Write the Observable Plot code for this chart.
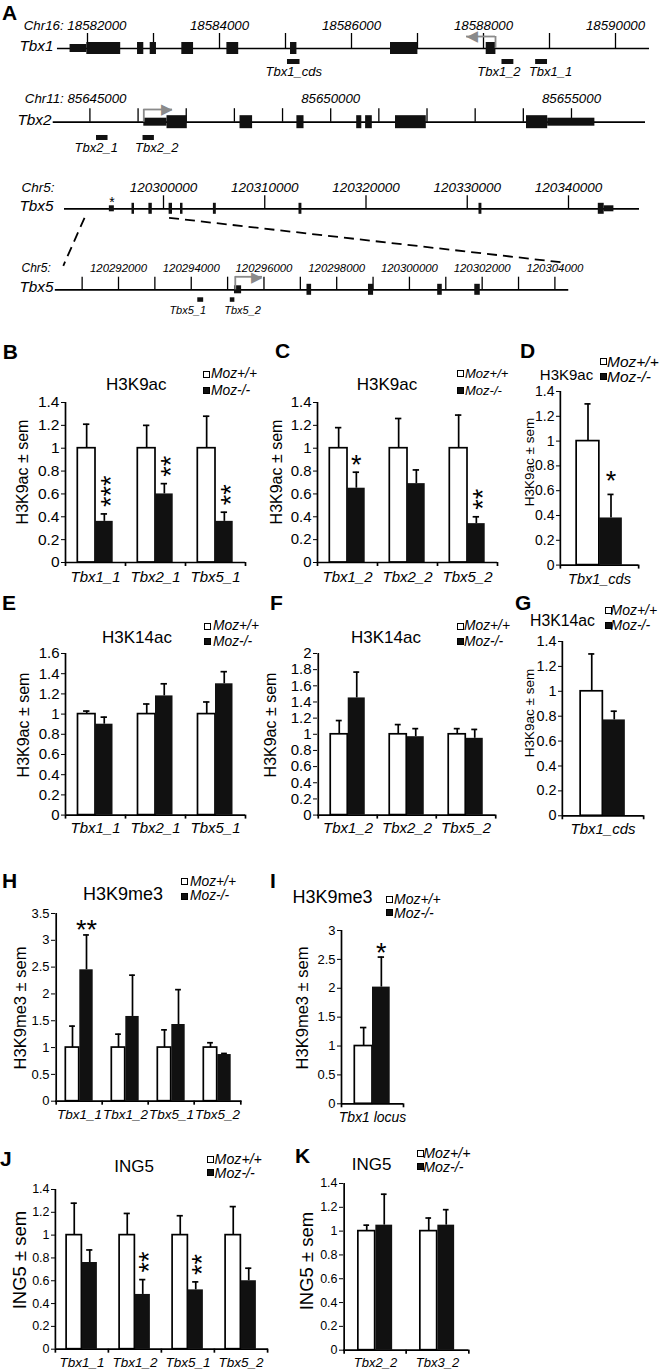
<!DOCTYPE html>
<html><head><meta charset="utf-8">
<script src="https://cdn.jsdelivr.net/npm/d3@7"></script>
<script src="https://cdn.jsdelivr.net/npm/@observablehq/plot@0.6"></script>
<style>
body{margin:0;background:#fff;}
#fig{position:relative;width:661px;height:1371px;overflow:hidden;background:#fff;font-family:"Liberation Sans",Arial,Helvetica,sans-serif;color:#000;}
#fig svg{position:absolute;overflow:visible;}
.t{position:absolute;white-space:nowrap;}
.lbox{position:absolute;width:5px;height:5px;border:1.2px solid #000;}
[aria-label="x-axis tick label"] text,[aria-label="x-axis"] text{font-style:italic;}
</style></head><body><div id="fig"></div>
<script>
// ================= DATA: panel A (genomic coordinates) =================
const tbx1Line = [18581545, 18590515];
const tbx1Ticks = [18582000,18583000,18584000,18585000,18586000,18587000,18588000,18589000,18590000];
const tbx1TickLabels = [18582000,18584000,18586000,18588000,18590000];
const tbx1Exons = [
  {start:18581736,end:18581990,kind:"utr"},{start:18581990,end:18582503,kind:"cds"},
  {start:18582758,end:18582853,kind:"cds"},{start:18582950,end:18583045,kind:"cds"},
  {start:18583429,end:18583607,kind:"cds"},{start:18584112,end:18584291,kind:"cds"},
  {start:18585076,end:18585173,kind:"cds"},{start:18586591,end:18587006,kind:"cds"},
  {start:18588041,end:18588188,kind:"cds"}];
const tbx1Probes = [{name:"Tbx1_cds",start:18585030,end:18585220},{name:"Tbx1_2",start:18588280,end:18588460},{name:"Tbx1_1",start:18588790,end:18588970}];
const tbx1Tss = [{tss:18588182,tip:18587742}];

const tbx2Line = [85644238, 85656537];
const tbx2Ticks = [85645000,85646000,85647000,85648000,85649000,85650000,85651000,85652000,85653000,85654000,85655000];
const tbx2TickLabels = [85645000,85650000,85655000];
const tbx2Exons = [
  {start:85646119,end:85646601,kind:"utr"},{start:85646601,end:85647022,kind:"cds"},
  {start:85648117,end:85648378,kind:"cds"},{start:85649298,end:85649446,kind:"cds"},
  {start:85650540,end:85650646,kind:"cds"},{start:85650725,end:85650864,kind:"cds"},
  {start:85651346,end:85651985,kind:"cds"},{start:85654066,end:85654506,kind:"cds"},
  {start:85654506,end:85655486,kind:"utr"}];
const tbx2Probes = [{name:"Tbx2_1",start:85645137,end:85645376},{name:"Tbx2_2",start:85646103,end:85646339}];
const tbx2Tss = [{tss:85646119,tip:85646715}];

const tbx5Line = [120290222, 120347012];
const tbx5Ticks = [120300000,120310000,120320000,120330000,120340000];
const tbx5TickLabels = [120300000,120310000,120320000,120330000,120340000];
const tbx5Exons = [
  {start:120294652,end:120295146,kind:"utr",mark:"*"},{start:120296889,end:120297136,kind:"cds"},
  {start:120298558,end:120298894,kind:"cds"},{start:120300553,end:120300889,kind:"cds"},
  {start:120301679,end:120301926,kind:"cds"},{start:120304928,end:120305215,kind:"cds"},
  {start:120313383,end:120313669,kind:"cds"},{start:120331160,end:120331447,kind:"cds"},
  {start:120342943,end:120343526,kind:"cds"},{start:120343526,end:120344484,kind:"utr"}];
const tbx5ZoomWindow = [120292200, 120300550];

const tbx5zLine = [120290262, 120304381];
const tbx5zTicks = [120291000,120292000,120293000,120294000,120295000,120296000,120297000,120298000,120299000,120300000,120301000,120302000,120303000,120304000];
const tbx5zTickLabels = [120292000,120294000,120296000,120298000,120300000,120302000,120304000];
const tbx5zExons = [
  {start:120295189,end:120295385,kind:"utr"},{start:120297183,end:120297310,kind:"cds"},
  {start:120298874,end:120299014,kind:"cds"},{start:120300777,end:120300903,kind:"cds"},
  {start:120301797,end:120301948,kind:"cds"}];
const tbx5zProbes = [{name:"Tbx5_1",start:120294180,end:120294342},{name:"Tbx5_2",start:120295074,end:120295200}];
const tbx5zTss = [{tss:120295211,tip:120295959}];

// ================= DATA: bar panels =================
const series = ["Moz+/+","Moz-/-"];
const bGroups = ["Tbx1_1","Tbx2_1","Tbx5_1"];
const bWT = [1,1,1], bWTerr = [0.21,0.2,0.28], bKO = [0.36,0.6,0.36], bKOerr = [0.065,0.09,0.08], bStars = ["***","**","**"];
const cGroups = ["Tbx1_2","Tbx2_2","Tbx5_2"];
const cWT = [1,1,1], cWTerr = [0.18,0.26,0.29], cKO = [0.65,0.69,0.34], cKOerr = [0.14,0.12,0.06], cStars = ["*","","**"];
const dGroups = ["Tbx1_cds"];
const dWT = [1], dWTerr = [0.3], dKO = [0.38], dKOerr = [0.19], dStars = ["*"];
const eGroups = ["Tbx1_1","Tbx2_1","Tbx5_1"];
const eWT = [1,1,1], eWTerr = [0.03,0.1,0.12], eKO = [0.9,1.18,1.3], eKOerr = [0.07,0.12,0.12];
const fGroups = ["Tbx1_2","Tbx2_2","Tbx5_2"];
const fWT = [1,1,1], fWTerr = [0.17,0.12,0.07], fKO = [1.45,0.97,0.95], fKOerr = [0.32,0.1,0.11];
const gGroups = ["Tbx1_cds"];
const gWT = [1], gWTerr = [0.3], gKO = [0.77], gKOerr = [0.07];
const hGroups = ["Tbx1_1","Tbx1_2","Tbx5_1","Tbx5_2"];
const hWT = [1,1,1,1], hWTerr = [0.4,0.25,0.33,0.09], hKO = [2.45,1.58,1.43,0.87], hKOerr = [0.65,0.77,0.65,0.02], hStars = ["**","","",""];
const iGroups = ["Tbx1 locus"];
const iWT = [1], iWTerr = [0.32], iKO = [2.02], iKOerr = [0.52], iStars = ["*"];
const jGroups = ["Tbx1_1","Tbx1_2","Tbx5_1","Tbx5_2"];
const jWT = [1,1,1,1], jWTerr = [0.28,0.19,0.17,0.25], jKO = [0.76,0.48,0.52,0.6], jKOerr = [0.11,0.13,0.07,0.11], jStars = ["","**","**",""];
const kGroups = ["Tbx2_2","Tbx3_2"];
const kWT = [1,1], kWTerr = [0.05,0.11], kKO = [1.05,1.05], kKOerr = [0.26,0.13];

const ticks14 = [0,0.2,0.4,0.6,0.8,1,1.2,1.4];
const ticks16 = [0,0.2,0.4,0.6,0.8,1,1.2,1.4,1.6];
const ticks20 = [0,0.2,0.4,0.6,0.8,1,1.2,1.4,1.6,1.8,2];
const ticks35 = [0,0.5,1,1.5,2,2.5,3,3.5];
const ticks30 = [0,0.5,1,1.5,2,2.5,3];

// ================= helpers =================
const FONT = '"Liberation Sans", Arial, Helvetica, sans-serif';
const GREY = "#8a8a8a";
const fig = document.getElementById("fig");
function put(el, left, top) { el.style.left = left + "px"; el.style.top = top + "px"; fig.appendChild(el); }
function txt(s, x, y, size, o = {}) {
  const d = document.createElement("div");
  d.className = "t"; d.textContent = s;
  d.style.fontSize = size + "px"; d.style.lineHeight = size + "px";
  if (o.bold) d.style.fontWeight = "bold";
  if (o.italic) d.style.fontStyle = "italic";
  if (o.rotate) { d.style.transform = "translate(-50%,-50%) rotate(-90deg)"; put(d, x, y); return; }
  if (o.anchor === "middle") d.style.transform = "translateX(-50%)";
  put(d, x, y - 0.8465 * size);
}
function legend(boxX, textX, r1, r2, size) {
  [[series[0], r1, "#fff"], [series[1], r2, "#111"]].forEach(([s, y, f]) => {
    const b = document.createElement("div"); b.className = "lbox"; b.style.background = f;
    put(b, boxX, y - 3.5);
    txt(s, textX, y + 0.358 * size, size, {italic: true});
  });
}
const y0 = () => 0;

function geneRow(o) {
  const it = {fontStyle: "italic", lineAnchor: "bottom"};
  const marks = [
    Plot.ruleY([o.line], {x1: d => d[0], x2: d => d[1], y: y0, strokeWidth: 1.7}),
    Plot.ruleX(o.ticks, {x: d => d, y1: y0, y2: y0, insetBottom: o.tickLen, strokeWidth: 1.3})
  ];
  const labs = o.joinDx != null ? o.tickLabels.slice(1) : o.tickLabels;
  marks.push(Plot.text(labs, {...it, x: d => d, y: y0, dy: o.labelDy, text: d => String(d), fontSize: o.labelSize}));
  if (o.joinDx != null)
    marks.push(Plot.text([o.tickLabels[0]], {...it, x: d => d, y: y0, dy: o.labelDy, dx: o.joinDx, textAnchor: "end", text: d => o.chr + ": " + d, fontSize: o.labelSize}));
  else
    marks.push(Plot.text([o.chr + ":"], {...it, frameAnchor: "left", y: y0, dx: 21, dy: o.labelDy, textAnchor: "start", text: d => d, fontSize: o.chrSize}));
  marks.push(Plot.text([o.name], {...it, frameAnchor: "left", y: y0, dx: o.nameX, dy: 2.4, textAnchor: "start", text: d => d, fontSize: 15.3}));
  for (const [kind, h] of [["cds", o.cdsH], ["utr", o.utrH]])
    marks.push(Plot.rect(o.exons.filter(e => e.kind === kind), {x1: "start", x2: "end", y1: y0, y2: y0, insetTop: -h / 2, insetBottom: -h / 2, fill: "#111"}));
  const starred = o.exons.filter(e => e.mark);
  if (starred.length) marks.push(Plot.text(starred, {x: e => (e.start + e.end) / 2, y: y0, dy: -1.5, text: "mark", lineAnchor: "bottom", fontSize: 14}));
  if (o.probes) {
    marks.push(Plot.rect(o.probes, {x1: "start", x2: "end", y1: y0, y2: y0, insetTop: o.probeOff, insetBottom: -(o.probeOff + o.probeH), fill: "#111"}));
    for (const p of o.probes)
      marks.push(Plot.text([p], {...it, x: d => (d.start + d.end) / 2, y: y0, dx: (o.nudge || {})[p.name] || 0, dy: o.probeLabelDy, text: "name", fontSize: o.probeLabelSize}));
  }
  if (o.arrows) {
    marks.push(Plot.ruleX(o.arrows, {x: "tss", y1: y0, y2: y0, insetBottom: o.arrowUp, stroke: GREY, strokeWidth: 1.8}));
    marks.push(Plot.ruleY(o.arrows, {x1: "tss", x2: "tip", y: y0, dy: -o.arrowUp, stroke: GREY, strokeWidth: 1.8}));
    marks.push(Plot.text(o.arrows, {x: "tip", y: y0, dy: -o.arrowUp, text: () => (o.arrowDir < 0 ? "◀" : "▶"), textAnchor: o.arrowDir < 0 ? "start" : "end", lineAnchor: "middle", fill: GREY, fontFamily: "DejaVu Sans", fontSize: 15}));
  }
  const ch = Plot.plot({
    width: 661, height: o.lineY + 40, margin: 0, axis: null,
    style: {background: "none", overflow: "visible", fontFamily: FONT},
    x: {domain: o.domain, range: o.range},
    y: {domain: [0, 1], range: [o.lineY, o.lineY - 20]},
    marks
  });
  put(ch, 0, 0);
  return ch;
}

function barPanel(c, d) {
  const ml = 50, mr = 8, mt = 45, mb = 34;
  const n = d.groups.length, bw = (c.x1 - c.x0) / n, bW = c.barW;
  const rows = d.groups.map((g, i) => ({group: g, wt: d.wt[i], wtE: d.wtErr[i], ko: d.ko[i], koE: d.koErr[i], star: (d.stars || [])[i] || ""}));
  const yMax = d.ticks[d.ticks.length - 1];
  const sw = 1.7, cap = 3.2;
  const marks = [
    Plot.barY(rows, {x: "group", y: "wt", fill: "white", stroke: "#000", strokeWidth: sw, insetLeft: bw / 2 - bW, insetRight: bw / 2}),
    Plot.barY(rows, {x: "group", y: "ko", fill: "#111", insetLeft: bw / 2, insetRight: bw / 2 - bW}),
    Plot.ruleX(rows, {x: "group", y1: "wt", y2: r => r.wt + r.wtE, dx: -bW / 2, strokeWidth: sw}),
    Plot.ruleX(rows, {x: "group", y1: "ko", y2: r => r.ko + r.koE, dx: bW / 2, strokeWidth: sw}),
    Plot.tickY(rows, {x: "group", y: r => r.wt + r.wtE, insetLeft: bw / 2 - bW / 2 - cap, insetRight: bw / 2 + bW / 2 - cap, strokeWidth: sw}),
    Plot.tickY(rows, {x: "group", y: r => r.ko + r.koE, insetLeft: bw / 2 + bW / 2 - cap, insetRight: bw / 2 - bW / 2 - cap, strokeWidth: sw}),
    Plot.ruleY([0], {strokeWidth: sw}),
    Plot.ruleX([d.groups[0]], {x: g => g, y1: y0, y2: () => yMax, dx: -bw / 2, strokeWidth: sw}),
    Plot.ruleX(d.groups, {x: g => g, y1: y0, y2: y0, dx: -bw / 2, insetBottom: -4, strokeWidth: sw}),
    Plot.ruleX([d.groups[n - 1]], {x: g => g, y1: y0, y2: y0, dx: bw / 2, insetBottom: -4, strokeWidth: sw})
  ];
  const fs = 27;
  const rot = rows.filter(r => r.star && c.rotateMulti && r.star.length > 1);
  const flat = rows.filter(r => r.star && !(c.rotateMulti && r.star.length > 1));
  if (rot.length) marks.push(Plot.text(rot, {x: "group", y: r => r.ko + r.koE, text: "star", rotate: -90, textAnchor: "start", lineAnchor: "middle", dx: bW / 2 + 0.25 * fs, dy: -7, fontSize: fs}));
  if (flat.length) marks.push(Plot.text(flat, {x: "group", y: r => r.ko + r.koE, text: "star", textAnchor: "middle", lineAnchor: "bottom", dx: bW / 2, dy: c.starDy, fontSize: fs}));
  const ch = Plot.plot({
    width: (c.x1 - c.x0) + ml + mr, height: (c.yBot - c.yTop) + mt + mb,
    marginLeft: ml, marginRight: mr, marginTop: mt, marginBottom: mb,
    style: {background: "none", overflow: "visible", fontFamily: FONT, fontSize: c.fs + "px", color: "#000"},
    x: {type: "band", domain: d.groups, padding: 0, tickSize: 0, tickPadding: c.xPad, label: null},
    y: {domain: [0, yMax], ticks: d.ticks, tickSize: 4, tickPadding: 2, tickFormat: v => String(v), label: null},
    marks
  });
  ch.querySelectorAll('g[aria-label="x-axis tick label"], g[aria-label="x-axis"]').forEach(g => g.setAttribute("font-size", c.xfs || c.fs));
  put(ch, c.x0 - ml, c.yTop - mt);
  txt(c.letter, c.letterX, c.letterY, 21, {bold: true});
  txt(c.title, c.titleX, c.titleY, c.titleFs, {anchor: "middle"});
  legend(c.lx, c.lx + c.ltx, c.l1, c.l2, c.lfs);
  txt(c.ylabel, c.ylx, c.yly, c.ylfs, {rotate: true});
}

// ================= Panel A =================
txt("A", 2, 20, 21, {bold: true});
geneRow({name: "Tbx1", chr: "Chr16", joinDx: 39, nameX: 19, domain: [18582000, 18590000], range: [87, 615], lineY: 48,
  line: tbx1Line, ticks: tbx1Ticks, tickLabels: tbx1TickLabels, exons: tbx1Exons, probes: tbx1Probes, arrows: tbx1Tss, arrowDir: -1,
  tickLen: 15, labelDy: -19, labelSize: 13.3, cdsH: 12, utrH: 8, probeOff: 11, probeH: 5, probeLabelDy: 27, probeLabelSize: 13,
  nudge: {Tbx1_2: -9, Tbx1_1: 9}, arrowUp: 12});
geneRow({name: "Tbx2", chr: "Chr11", joinDx: 36.6, nameX: 17, domain: [85645000, 85655000], range: [89.4, 571], lineY: 121.7,
  line: tbx2Line, ticks: tbx2Ticks, tickLabels: tbx2TickLabels, exons: tbx2Exons, probes: tbx2Probes, arrows: tbx2Tss, arrowDir: 1,
  tickLen: 13.5, labelDy: -18.7, labelSize: 13.3, cdsH: 13, utrH: 8, probeOff: 13.3, probeH: 5, probeLabelDy: 30.3, probeLabelSize: 13,
  nudge: {Tbx2_1: -6, Tbx2_2: 8}, arrowUp: 12.7});
const top5 = geneRow({name: "Tbx5", chr: "Chr5", chrSize: 13.5, nameX: 19, domain: [120300000, 120340000], range: [163, 568], lineY: 208.3,
  line: tbx5Line, ticks: tbx5Ticks, tickLabels: tbx5TickLabels, exons: tbx5Exons,
  tickLen: 13, labelDy: -16.6, labelSize: 13.5, cdsH: 11, utrH: 6});
const zoom5 = geneRow({name: "Tbx5", chr: "Chr5", chrSize: 12, nameX: 19, domain: [120292000, 120304000], range: [118, 554.4], lineY: 289.3,
  line: tbx5zLine, ticks: tbx5zTicks, tickLabels: tbx5zTickLabels, exons: tbx5zExons, probes: tbx5zProbes, arrows: tbx5zTss, arrowDir: 1,
  tickLen: 12.6, labelDy: -17.6, labelSize: 11.4, cdsH: 11, utrH: 8, probeOff: 8, probeH: 4.5, probeLabelDy: 24, probeLabelSize: 11,
  nudge: {Tbx5_1: -13, Tbx5_2: 10}, arrowUp: 13});
// dashed zoom connectors, computed through the two rows' x scales
const tx = top5.scale("x"), zx = zoom5.scale("x");
const links = [
  {x1: tx.apply(tbx5ZoomWindow[0]), y1: 208.3 + 9, x2: zx.apply(tbx5zLine[0]) + 8, y2: 289.3 - 24},
  {x1: tx.apply(tbx5ZoomWindow[1]), y1: 208.3 + 9, x2: zx.apply(tbx5zLine[1]) - 3, y2: 289.3 - 27}
];
put(Plot.plot({width: 661, height: 300, margin: 0, axis: null,
  style: {background: "none", overflow: "visible"},
  x: {type: "identity"}, y: {type: "identity"},
  marks: [Plot.link(links, {x1: "x1", y1: "y1", x2: "x2", y2: "y2", strokeWidth: 1.8, strokeDasharray: "10,6"})]}), 0, 0);

// ================= Bar panels =================
const base = {fs: 15.5, xfs: 15, xPad: 9, rotateMulti: true, starDy: 1.7, titleFs: 17, lfs: 13.8, ltx: 8, ylfs: 16, ylabel: "H3K9ac ± sem"};
barPanel({...base, letter: "B", letterX: 2.7, letterY: 359, title: "H3K9ac", titleX: 136.3, titleY: 390,
  lx: 203, l1: 374, l2: 390.5, ylx: 23.3, yly: 471.7, x0: 65, x1: 245, yTop: 401.7, yBot: 561.7, barW: 17.7},
  {groups: bGroups, wt: bWT, wtErr: bWTerr, ko: bKO, koErr: bKOerr, stars: bStars, ticks: ticks14});
barPanel({...base, fs: 15, letter: "C", letterX: 275, letterY: 358, title: "H3K9ac", titleX: 387, titleY: 390, lfs: 13,
  lx: 457, l1: 373, l2: 390, ylx: 276.7, yly: 471.7, x0: 316.7, x1: 496.7, yTop: 401.7, yBot: 561.7, barW: 17.7},
  {groups: cGroups, wt: cWT, wtErr: cWTerr, ko: cKO, koErr: cKOerr, stars: cStars, ticks: ticks14});
barPanel({...base, fs: 14, xfs: 14.5, letter: "D", letterX: 520, letterY: 358, title: "H3K9ac", titleX: 566.5, titleY: 380, titleFs: 15, lfs: 15.5, ltx: 7,
  lx: 600, l1: 361.7, l2: 376.7, ylx: 530, yly: 462, ylfs: 13.5, starDy: -4.6, x0: 560, x1: 638.3, yTop: 390.7, yBot: 564.3, barW: 23},
  {groups: dGroups, wt: dWT, wtErr: dWTerr, ko: dKO, koErr: dKOerr, stars: dStars, ticks: ticks14});
barPanel({...base, fs: 15, xPad: 7, letter: "E", letterX: 2, letterY: 610, title: "H3K14ac", titleX: 137, titleY: 643, titleFs: 17, ltx: 9,
  lx: 204, l1: 626, l2: 641.7, ylx: 24, yly: 725, x0: 64.5, x1: 244.5, yTop: 652.7, yBot: 814.3, barW: 17.5},
  {groups: eGroups, wt: eWT, wtErr: eWTerr, ko: eKO, koErr: eKOerr, ticks: ticks16});
barPanel({...base, fs: 15, xPad: 7, letter: "F", letterX: 270, letterY: 610, title: "H3K14ac", titleX: 386, titleY: 643, titleFs: 17, ltx: 7,
  lx: 457, l1: 626, l2: 641.7, ylx: 271, yly: 725, x0: 317, x1: 495.4, yTop: 652.7, yBot: 814.3, barW: 17.5},
  {groups: fGroups, wt: fWT, wtErr: fWTerr, ko: fKO, koErr: fKOerr, ticks: ticks20});
barPanel({...base, fs: 14.4, xfs: 15, xPad: 8, letter: "G", letterX: 515, letterY: 610, title: "H3K14ac", titleX: 562.5, titleY: 626.7, titleFs: 15.8, lfs: 14, ltx: 5.5,
  lx: 605, l1: 610, l2: 625, ylx: 530, yly: 712.5, ylfs: 13.5, x0: 561.7, x1: 643, yTop: 640.7, yBot: 815, barW: 22.5},
  {groups: gGroups, wt: gWT, wtErr: gWTerr, ko: gKO, koErr: gKOerr, ticks: ticks14});
barPanel({...base, fs: 13, xfs: 13.5, xPad: 8, rotateMulti: false, starDy: 4.4, letter: "H", letterX: 2, letterY: 888, title: "H3K9me3", titleX: 123, titleY: 900, titleFs: 18, ltx: 9,
  lx: 181, l1: 881.7, l2: 896, ylabel: "H3K9me3 ± sem", ylfs: 16.5, ylx: 20, yly: 1008, x0: 55, x1: 241.5, yTop: 913.3, yBot: 1101, barW: 14},
  {groups: hGroups, wt: hWT, wtErr: hWTerr, ko: hKO, koErr: hKOerr, stars: hStars, ticks: ticks35});
barPanel({...base, fs: 13, xfs: 14, xPad: 8, starDy: 5.4, letter: "I", letterX: 270, letterY: 888, title: "H3K9me3", titleX: 332.6, titleY: 903, titleFs: 18, lfs: 14, ltx: 8,
  lx: 386, l1: 899, l2: 912.7, ylabel: "H3K9me3 ± sem", ylfs: 16.5, ylx: 301.5, yly: 1008, x0: 340.6, x1: 402.6, yTop: 930, yBot: 1103.3, barW: 17.7},
  {groups: iGroups, wt: iWT, wtErr: iWTerr, ko: iKO, koErr: iKOerr, stars: iStars, ticks: ticks30});
barPanel({...base, fs: 12.5, xfs: 13.5, xPad: 8, letter: "J", letterX: 0, letterY: 1166, title: "ING5", titleX: 134, titleY: 1172, titleFs: 17, lfs: 14.2, ltx: 8,
  lx: 206.6, l1: 1159, l2: 1172.7, ylabel: "ING5 ± sem", ylfs: 18.5, ylx: 20, yly: 1260, x0: 54.8, x1: 267.7, yTop: 1189.3, yBot: 1349, barW: 15.5},
  {groups: jGroups, wt: jWT, wtErr: jWTerr, ko: jKO, koErr: jKOerr, stars: jStars, ticks: ticks14});
barPanel({...base, fs: 12.5, xfs: 13, xPad: 8, letter: "K", letterX: 295, letterY: 1163, title: "ING5", titleX: 371.7, titleY: 1170, titleFs: 17, lfs: 14.2, ltx: 6.5,
  lx: 416.7, l1: 1153.3, l2: 1166.7, ylabel: "ING5 ± sem", ylfs: 18.5, ylx: 306.7, yly: 1260.7, x0: 343.3, x1: 468.7, yTop: 1183.3, yBot: 1350, barW: 17.5},
  {groups: kGroups, wt: kWT, wtErr: kWTerr, ko: kKO, koErr: kKOerr, ticks: ticks14});
</script></body></html>
